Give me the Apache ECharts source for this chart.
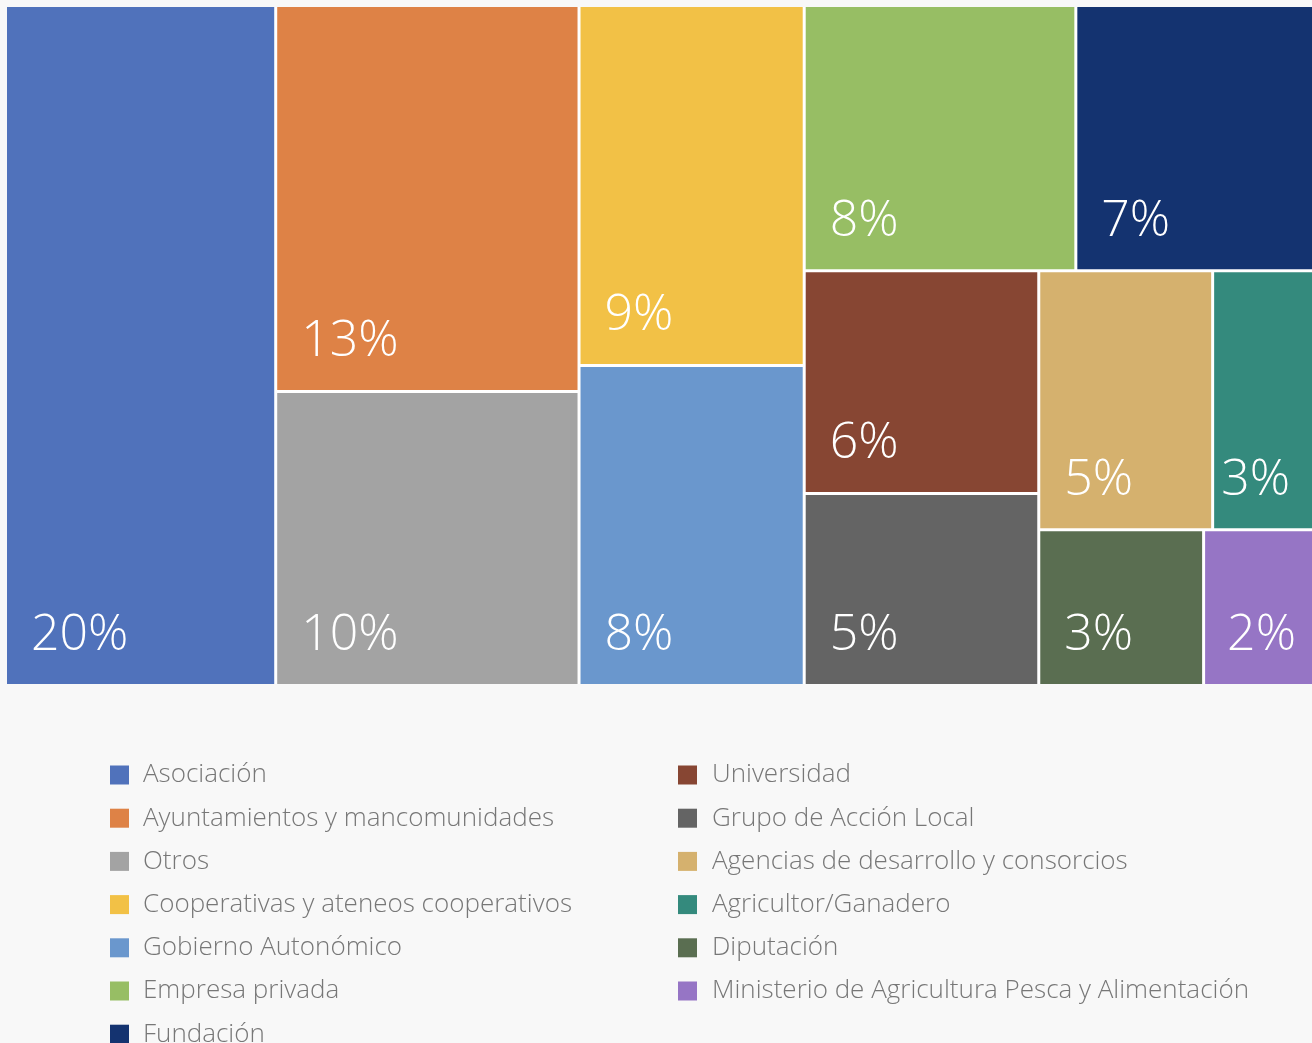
<!DOCTYPE html>
<html>
<head>
<meta charset="utf-8">
<title>Tipo de entidad</title>
<script src="https://cdn.jsdelivr.net/npm/echarts@6.0.0/dist/echarts.min.js"></script>
<style>
  html, body { margin: 0; padding: 0; background: #f8f8f8; }
  #chart { width: 1312px; height: 1043px; }
</style>
</head>
<body>
<div id="chart"></div>
<script>
  // categorias y porcentajes
  const names = [
    'Asociación',
    'Ayuntamientos y mancomunidades',
    'Otros',
    'Cooperativas y ateneos cooperativos',
    'Gobierno Autonómico',
    'Empresa privada',
    'Fundación',
    'Universidad',
    'Grupo de Acción Local',
    'Agencias de desarrollo y consorcios',
    'Agricultor/Ganadero',
    'Diputación',
    'Ministerio de Agricultura Pesca y Alimentación'
  ];
  const values = [20.4, 13.0, 9.9, 9.0, 8.0, 8.0, 7.0, 5.8, 5.0, 5.0, 2.9, 2.85, 1.9];
  const colors = [
    '#5072bb', '#de8246', '#a3a3a3', '#f2c146', '#6a97cd', '#97be64', '#143370',
    '#874633', '#646464', '#d5b16e', '#348a7d', '#5a6e51', '#9675c5'
  ];
  // agrupacion de las celdas (indices sobre names)
  const tileGroups = [[0], [1, 2], [3, 4], [5, 6], [7, 8], [9, 10], [11, 12]];
  const leftLegend = names.slice(0, 7);
  const rightLegend = names.slice(7);

  // celdas estrechas: etiqueta menos separada del borde
  const narrowPad = { 10: 7, 12: 22 };

  function leaf(i) {
    let item = { name: names[i], value: values[i], itemStyle: { color: colors[i] } };
    if (narrowPad[i] != null) {
      item.label = { padding: [0, 0, 22, narrowPad[i]] };
    }
    return item;
  }

  const treeData = tileGroups.map(function (g) {
    if (g.length === 1) return leaf(g[0]);
    return { name: 'grupo' + g.join('-'), children: g.map(leaf) };
  });

  const legendText = {
    fontSize: 26,
    color: '#777777',
    fontFamily: 'Open Sans',
    fontWeight: 300,
    padding: [0, 0, 0, 9]
  };

  let chart = echarts.init(document.getElementById('chart'));
  chart.setOption({
    backgroundColor: '#f8f8f8',
    animation: false,
    legend: [
      {
        orient: 'vertical',
        left: 110,
        top: 762,
        height: 300,
        padding: 0,
        itemWidth: 19,
        itemHeight: 19,
        itemGap: 17.2,
        icon: 'rect',
        selectedMode: false,
        data: leftLegend,
        textStyle: legendText
      },
      {
        orient: 'vertical',
        left: 678,
        top: 762,
        height: 300,
        padding: 0,
        itemWidth: 19,
        itemHeight: 19,
        itemGap: 17.2,
        icon: 'rect',
        selectedMode: false,
        data: rightLegend,
        textStyle: Object.assign({}, legendText, { padding: [0, 0, 0, 10] })
      }
    ],
    series: [
      {
        type: 'treemap',
        left: 7,
        top: 7,
        width: 1305,
        height: 677,
        roam: false,
        nodeClick: false,
        sort: false,
        squareRatio: 0.000001,
        breadcrumb: { show: false },
        label: {
          show: true,
          position: 'insideBottomLeft',
          distance: 0,
          padding: [0, 0, 22, 24],
          overflow: 'none',
          color: '#ffffff',
          fontSize: 50,
          lineHeight: 52,
          fontFamily: 'Open Sans',
          fontWeight: 300,
          formatter: function (p) {
            return Math.round(p.value) + '%';
          }
        },
        upperLabel: { show: false },
        levels: [
          { itemStyle: { borderWidth: 0, gapWidth: 3, borderColor: '#ffffff' } },
          { itemStyle: { borderWidth: 0, gapWidth: 3, borderColor: '#ffffff' } },
          { itemStyle: { borderWidth: 0, gapWidth: 0 } }
        ],
        data: treeData
      },
      {
        // solo alimenta la leyenda
        type: 'pie',
        radius: 0,
        center: [-100, -100],
        silent: true,
        label: { show: false },
        labelLine: { show: false },
        data: names.map(function (n, i) {
          return { name: n, value: values[i], itemStyle: { color: colors[i] } };
        })
      }
    ]
  });
</script>
</body>
</html>
